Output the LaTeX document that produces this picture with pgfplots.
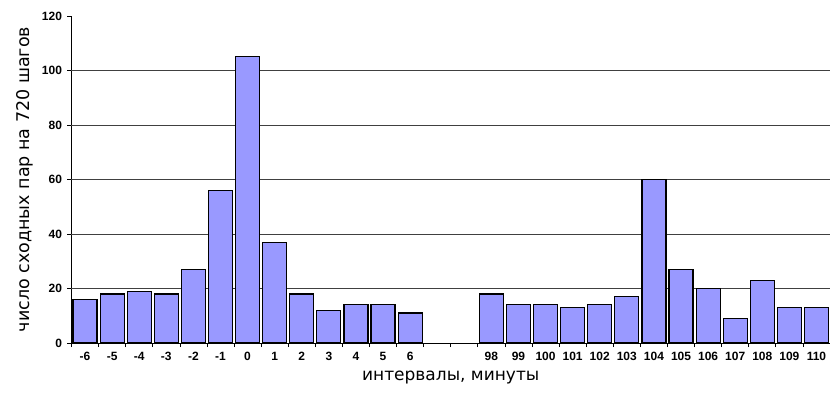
\documentclass[border=0pt]{standalone}
\usepackage{pgfplots}
\pgfplotsset{compat=1.18}
\usepackage{fontspec}
\setmainfont{Liberation Sans}
\newfontfamily\labelfont{DejaVu Sans}
\definecolor{barfill}{HTML}{9999FF}

% positions: -6..6 -> 0..12, gap at 13,14, 98..110 -> 15..27
\pgfplotstableread{
pos val
0 16
1 18
2 19
3 18
4 27
5 56
6 105
7 37
8 18
9 12
10 14
11 14
12 11
15 18
16 14
17 14
18 13
19 14
20 17
21 60
22 27
23 20
24 9
25 23
26 13
27 13
}\counts

\begin{document}
\begin{tikzpicture}
\path[use as bounding box] (-71.5pt,-49pt) rectangle (758.5pt,343pt);
\begin{axis}[
    at={(0pt,0pt)}, anchor=south west,
    width=758.5pt, height=327pt, scale only axis,
    xmin=-0.5, xmax=27.5, ymin=0, ymax=120,
    axis x line*=bottom, axis y line*=left,
    axis line style={-, black, line width=0.8pt},
    ybar, bar width=24pt, bar shift=0pt,
    ytick={0,20,...,120},
    tick align=outside, major tick length=4pt, minor tick length=4pt,
    tick style={black, line width=0.7pt},
    xtick={0,...,12,15,16,...,27},
    xticklabels={-6,-5,-4,-3,-2,-1,0,1,2,3,4,5,6,98,99,100,101,102,103,104,105,106,107,108,109,110},
    major x tick style={draw=none},
    minor xtick={-0.5,0.5,...,27.5},
    extra y ticks={20,40,60,80,100}, extra y tick labels={},
    extra y tick style={grid=major, major grid style={black!75, line width=0.8pt}},
    /pgf/number format/assume math mode=true,
    tick label style={font=\bfseries\fontsize{12}{13}\selectfont},
    xticklabel style={yshift=-2pt},
    yticklabel style={xshift=-2pt},
    xlabel={интервалы, минуты},
    xlabel style={font=\labelfont\fontsize{17}{19}\selectfont,
        at={(axis description cs:0.5,-0.105)}, anchor=center},
    ylabel={число сходных пар на 720 шагов},
    ylabel style={font=\labelfont\fontsize{17.5}{19}\selectfont,
        at={(axis description cs:-0.0613,0.5)}, anchor=center},
    clip=false,
]
\addplot[fill=barfill, draw=black, line width=1.2pt] table[x=pos, y=val] {\counts};
\end{axis}
\end{tikzpicture}
\end{document}
